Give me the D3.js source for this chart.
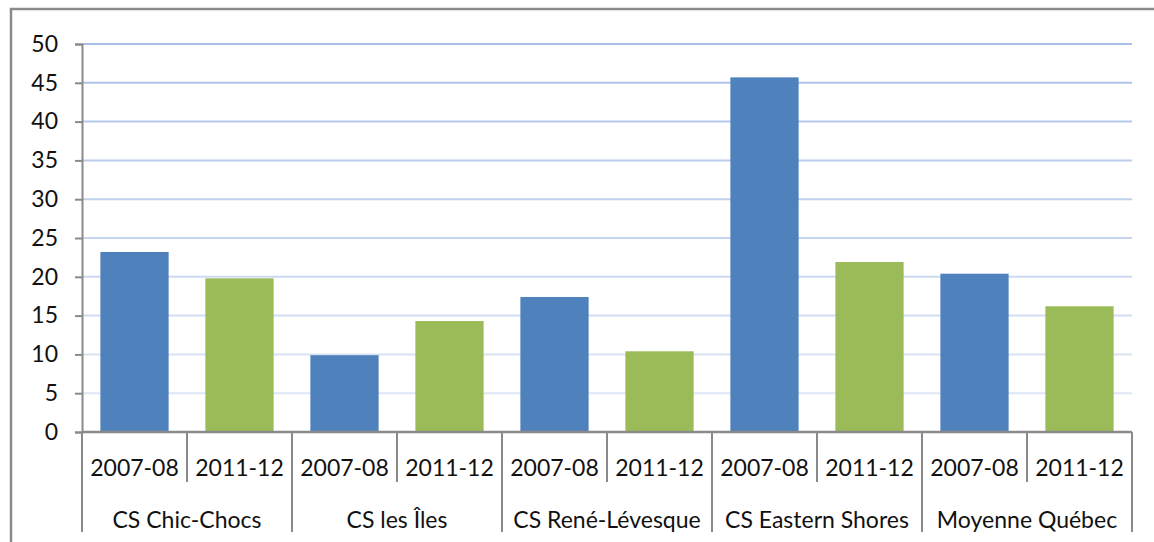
<!DOCTYPE html>
<html>
<head>
<meta charset="utf-8">
<script src="https://cdn.jsdelivr.net/npm/d3@7"></script>
<style>
  body { margin: 0; background: #fff; }
  svg { display: block; }
</style>
</head>
<body>
<div id="chart"></div>
<script>
// chart data
const groups = ["CS Chic-Chocs", "CS les Îles", "CS René-Lévesque", "CS Eastern Shores", "Moyenne Québec"];
const periods = ["2007-08", "2011-12"];
const values2007 = [23.2, 9.9, 17.4, 45.7, 20.4];
const values2011 = [19.8, 14.3, 10.4, 21.9, 16.2];
const yTicks = [0, 5, 10, 15, 20, 25, 30, 35, 40, 45, 50];
const barColors = ["#4F81BD", "#9BBB59"];

const W = 1154, H = 542;
const margin = { top: 44, right: 22, bottom: 110, left: 82 };
const width = W - margin.left - margin.right;
const height = H - margin.top - margin.bottom;
const labelFont = "23px Lato, 'Open Sans', sans-serif";

const rows = [];
groups.forEach((g, gi) => {
    periods.forEach((p, pi) => {
        rows.push({ key: g + "|" + p, group: g, period: p, pi: pi,
            value: pi === 0 ? values2007[gi] : values2011[gi] });
    });
});

const svg = d3.select("#chart").append("svg")
    .attr("width", W)
    .attr("height", H);

// outer frame
svg.append("rect")
    .attr("x", 11).attr("y", 9)
    .attr("width", W + 20).attr("height", H + 20)
    .attr("fill", "none")
    .attr("stroke", "#8a8a8a")
    .attr("stroke-width", 2.5);

const g = svg.append("g")
    .attr("transform", `translate(${margin.left},${margin.top})`);

const x = d3.scaleBand()
    .domain(rows.map(d => d.key))
    .range([0, width])
    .paddingInner(0.35)
    .paddingOuter(0.175);

const y = d3.scaleLinear()
    .domain([0, 50])
    .range([height, 0]);

// gridlines, fading toward the bottom
const gridColor = d3.scaleLinear().domain([0, 50]).range(["#e3ebf7", "#a9c0e8"]);
g.append("g")
    .selectAll("line")
    .data(yTicks.filter(t => t > 0))
    .enter()
    .append("line")
    .attr("x1", 0)
    .attr("x2", width)
    .attr("y1", d => y(d))
    .attr("y2", d => y(d))
    .attr("stroke", d => gridColor(d))
    .attr("stroke-width", 2);

// bars
g.selectAll("rect.bar")
    .data(rows)
    .enter()
    .append("rect")
    .attr("class", "bar")
    .attr("x", d => x(d.key))
    .attr("width", x.bandwidth())
    .attr("y", d => y(d.value))
    .attr("height", d => height - y(d.value))
    .attr("fill", d => barColors[d.pi]);

// y axis
const yAxis = g.append("g")
    .call(d3.axisLeft(y).tickValues(yTicks).tickSize(7).tickPadding(17));
yAxis.select(".domain").attr("stroke", "#8a8a8a").attr("stroke-width", 2);
yAxis.selectAll(".tick line").attr("stroke", "#8a8a8a").attr("stroke-width", 2);
yAxis.selectAll("text")
    .attr("fill", "#111")
    .style("font", labelFont);

// x axis: baseline and separators
const axisColor = "#8a8a8a";
g.append("line")
    .attr("x1", 0).attr("x2", width)
    .attr("y1", height).attr("y2", height)
    .attr("stroke", axisColor).attr("stroke-width", 2.5);

const step = x.step();
const edges = d3.range(rows.length + 1);
g.append("g")
    .selectAll("line")
    .data(edges)
    .enter()
    .append("line")
    .attr("x1", i => i * step)
    .attr("x2", i => i * step)
    .attr("y1", height)
    .attr("y2", i => (i % 2 === 0) ? height + 100 : height + 50)
    .attr("stroke", axisColor)
    .attr("stroke-width", 2);

// period labels
g.append("g")
    .selectAll("text")
    .data(rows)
    .enter()
    .append("text")
    .attr("x", d => x(d.key) + x.bandwidth() / 2)
    .attr("y", height + 44)
    .attr("text-anchor", "middle")
    .attr("fill", "#111")
    .style("font", labelFont)
    .text(d => d.period);

// group labels
g.append("g")
    .selectAll("text")
    .data(groups)
    .enter()
    .append("text")
    .attr("x", (d, i) => (i * 2 + 1) * step)
    .attr("y", height + 96)
    .attr("text-anchor", "middle")
    .attr("fill", "#111")
    .style("font", labelFont)
    .text(d => d);
</script>
</body>
</html>
